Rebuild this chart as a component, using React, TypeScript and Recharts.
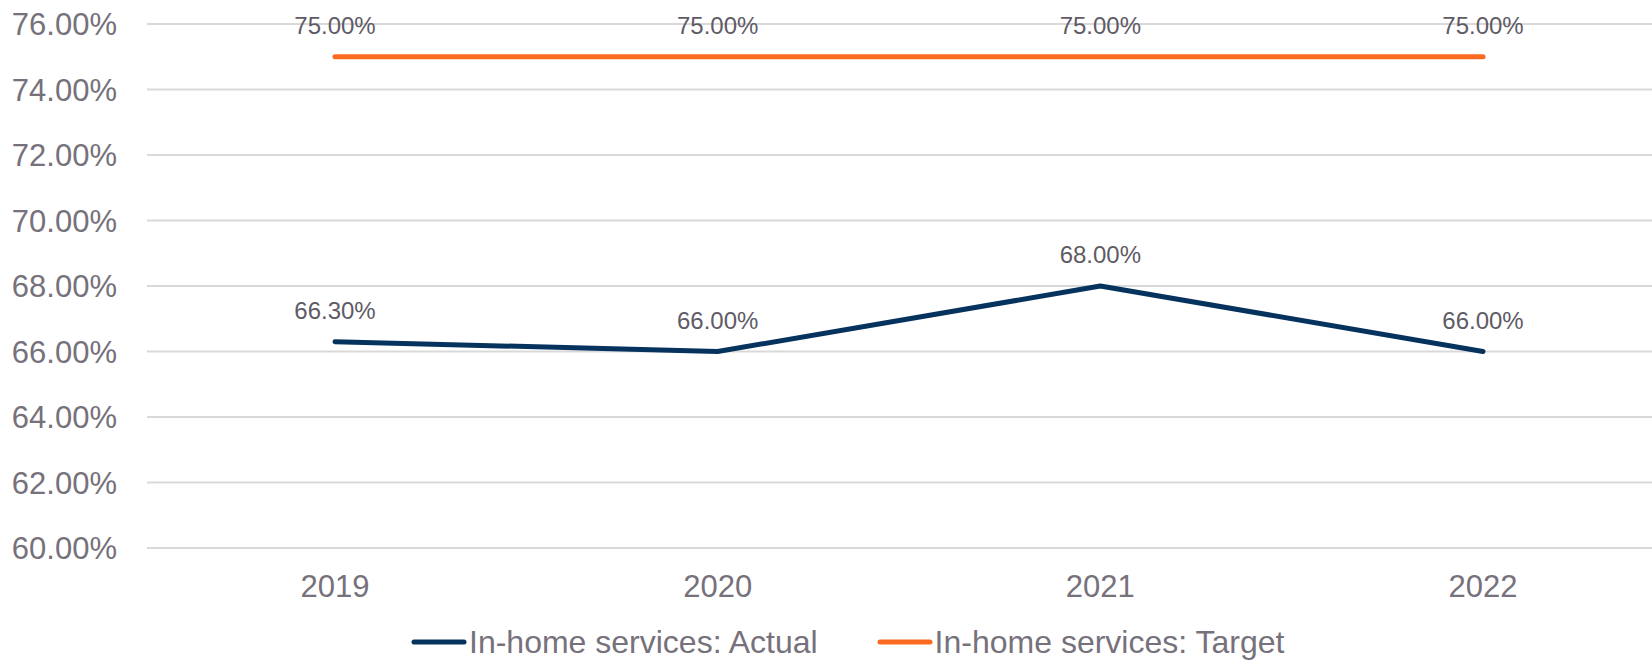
import React from 'react';
import { LineChart, Line, XAxis, YAxis, CartesianGrid, Legend, LabelList } from 'recharts';

const years = ['2019', '2020', '2021', '2022'];
const actual = [66.3, 66.0, 68.0, 66.0];
const target = [75.0, 75.0, 75.0, 75.0];
const yTicks = [60, 62, 64, 66, 68, 70, 72, 74, 76];

const ACTUAL_COLOR = '#05335E';
const TARGET_COLOR = '#FA6B21';
const AXIS_TEXT = '#76717B';
const LABEL_TEXT = '#5F5B66';
const FONT = '"Liberation Sans", Arial, sans-serif';

const data = years.map((y, i) => ({ year: y, actual: actual[i], target: target[i] }));

const fmt = (v: number) => `${v.toFixed(2)}%`;

const LegendBox = () => {
  const items = [
    { name: 'In-home services: Actual', color: ACTUAL_COLOR },
    { name: 'In-home services: Target', color: TARGET_COLOR },
  ];
  return (
    <div style={{ height: 74, position: 'relative', fontFamily: FONT }}>
      <div style={{ position: 'absolute', left: 411, top: 37, display: 'flex', alignItems: 'center' }}>
        {items.map((it, i) => (
          <div key={it.name} style={{ display: 'flex', alignItems: 'center', marginRight: i === 0 ? 59 : 0 }}>
            <svg width={56} height={8} style={{ display: 'block' }}>
              <line x1={3} y1={4} x2={53} y2={4} stroke={it.color} strokeWidth={5} strokeLinecap="round" />
            </svg>
            <span style={{ fontSize: 32, color: AXIS_TEXT, marginLeft: 2, lineHeight: '34px' }}>{it.name}</span>
          </div>
        ))}
      </div>
    </div>
  );
};

export default function App() {
  return (
    <div style={{ position: 'absolute', left: 0, top: 0, width: 1652, height: 662, background: '#fff', overflow: 'hidden' }}>
      <LineChart width={1652} height={662} data={data} margin={{ top: 24, right: 0, left: 0, bottom: 0 }}>
        <CartesianGrid vertical={false} stroke="#D9D9D9" strokeWidth={2} />
        <XAxis
          dataKey="year"
          axisLine={false}
          tickLine={false}
          tickSize={0}
          tickMargin={27}
          height={40}
          padding={{ left: 188, right: 169 }}
          tick={{ fill: AXIS_TEXT, fontSize: 31, fontFamily: FONT }}
        />
        <YAxis
          domain={[60, 76]}
          ticks={yTicks}
          width={147}
          axisLine={false}
          tickLine={false}
          tickSize={0}
          tickMargin={30}
          tickFormatter={fmt}
          tick={{ fill: AXIS_TEXT, fontSize: 31, fontFamily: FONT }}
        />
        <Legend verticalAlign="bottom" content={() => <LegendBox />} />
        <Line
          dataKey="actual"
          stroke={ACTUAL_COLOR}
          strokeWidth={5}
          strokeLinecap="round"
          strokeLinejoin="round"
          dot={false}
          activeDot={false}
          isAnimationActive={false}
        >
          <LabelList dataKey="actual" position="top" offset={23} formatter={(v: any) => fmt(Number(v))} fill={LABEL_TEXT} fontSize={24} fontFamily={FONT} />
        </Line>
        <Line
          dataKey="target"
          stroke={TARGET_COLOR}
          strokeWidth={5}
          strokeLinecap="round"
          strokeLinejoin="round"
          dot={false}
          activeDot={false}
          isAnimationActive={false}
        >
          <LabelList dataKey="target" position="top" offset={23} formatter={(v: any) => fmt(Number(v))} fill={LABEL_TEXT} fontSize={24} fontFamily={FONT} />
        </Line>
      </LineChart>
    </div>
  );
}
